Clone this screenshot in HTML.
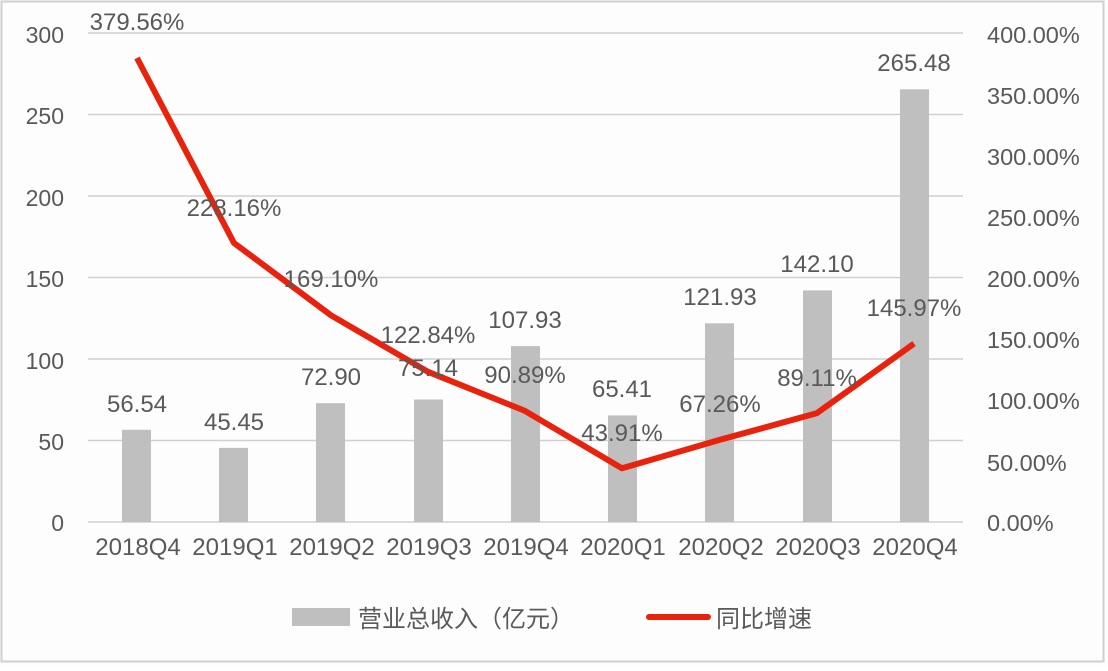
<!DOCTYPE html>
<html><head><meta charset="utf-8"><style>
body{margin:0;background:#fff;}
svg text{font-family:"Liberation Sans","Noto Sans CJK SC",sans-serif;fill:#595959;}
</style></head><body>
<svg width="1108" height="666" viewBox="0 0 1108 666" xmlns="http://www.w3.org/2000/svg">
<rect x="0" y="0" width="1108" height="666" fill="#fdfdfd"/>
<rect x="1.5" y="1.5" width="1102" height="660" fill="none" stroke="#d0d0d0" stroke-width="2"/>
<g stroke="#d0d0d0" stroke-width="1.5">
<line x1="88" x2="963" y1="33" y2="33"/>
<line x1="88" x2="963" y1="114.5" y2="114.5"/>
<line x1="88" x2="963" y1="196" y2="196"/>
<line x1="88" x2="963" y1="277.5" y2="277.5"/>
<line x1="88" x2="963" y1="359" y2="359"/>
<line x1="88" x2="963" y1="440.5" y2="440.5"/>
<line x1="88" x2="963" y1="522" y2="522"/>
</g>
<g font-size="23" text-anchor="end">
<text x="64" y="43">300</text><text x="64" y="124">250</text><text x="64" y="206">200</text>
<text x="64" y="287">150</text><text x="64" y="369">100</text><text x="64" y="450">50</text><text x="64" y="531">0</text>
</g>
<g font-size="23.5" text-anchor="start">
<text x="987" y="43">400.00%</text><text x="987" y="104">350.00%</text><text x="987" y="165">300.00%</text>
<text x="987" y="226">250.00%</text><text x="987" y="287">200.00%</text><text x="987" y="348">150.00%</text>
<text x="987" y="409">100.00%</text><text x="987" y="471">50.00%</text><text x="987" y="531">0.00%</text>
</g>
<g fill="#bfbfbf">
<rect x="122" y="429.8" width="29" height="92.2"/>
<rect x="219" y="447.9" width="29" height="74.1"/>
<rect x="316" y="403.2" width="29" height="118.8"/>
<rect x="414" y="399.5" width="29" height="122.5"/>
<rect x="511" y="346.1" width="29" height="175.9"/>
<rect x="608" y="415.4" width="29" height="106.6"/>
<rect x="705" y="323.3" width="29" height="198.7"/>
<rect x="803" y="290.4" width="29" height="231.6"/>
<rect x="900" y="89.3" width="29" height="432.7"/>
</g>
<g font-size="24" text-anchor="middle">
<text x="138" y="555">2018Q4</text><text x="235" y="555">2019Q1</text><text x="332" y="555">2019Q2</text>
<text x="429" y="555">2019Q3</text><text x="526" y="555">2019Q4</text><text x="623" y="555">2020Q1</text>
<text x="721" y="555">2020Q2</text><text x="818" y="555">2020Q3</text><text x="915" y="555">2020Q4</text>
</g>
<polyline fill="none" stroke="#e8220c" stroke-width="6" stroke-linejoin="round" points="137,58 234,243 331,315.3 428,371.8 525,410.9 622,468.3 720,439.8 817,413.1 914,343.6"/>
<g font-size="24" text-anchor="middle">
<text x="137" y="412">56.54</text><text x="234" y="430">45.45</text><text x="331" y="385">72.90</text>
<text x="428" y="376">75.14</text><text x="525" y="328">107.93</text><text x="622" y="397">65.41</text>
<text x="720" y="305">121.93</text><text x="817" y="272">142.10</text><text x="914" y="71">265.48</text>
<text x="137" y="30">379.56%</text><text x="234" y="216">228.16%</text><text x="331" y="287">169.10%</text>
<text x="428" y="343">122.84%</text><text x="525" y="383">90.89%</text><text x="622" y="441">43.91%</text>
<text x="720" y="412">67.26%</text><text x="817" y="386">89.11%</text><text x="914" y="316">145.97%</text>
</g>
<rect x="292" y="608" width="58" height="18" fill="#bfbfbf"/>
<text x="358" y="627" font-size="24">营业总收入（亿元）</text>
<line x1="649" x2="708" y1="617" y2="617" stroke="#e8220c" stroke-width="6" stroke-linecap="round"/>
<text x="716" y="627" font-size="24">同比增速</text>
</svg>
</body></html>
